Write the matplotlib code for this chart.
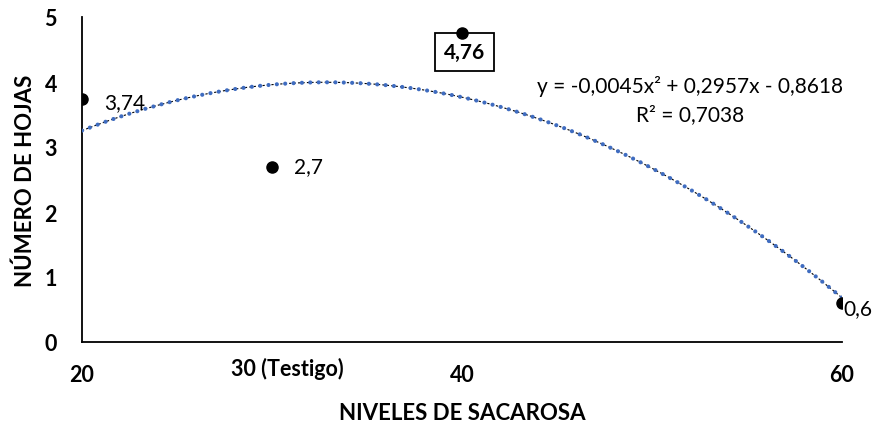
import numpy as np
import matplotlib
matplotlib.use("Agg")
import matplotlib.pyplot as plt
import matplotlib.transforms as mtransforms

# data
niveles = [20, 30, 40, 60]
hojas = [3.74, 2.7, 4.76, 0.6]
etiquetas = ["3,74", "2,7", "4,76", "0,6"]
tick_pos = [20, 30, 40, 60]
tick_lab = ["20", "30 (Testigo)", "40", "60"]
coef = [-0.0045, 0.2957, -0.8618]  # polynomial trend (Excel)
ecuacion = "y = -0,0045x² + 0,2957x - 0,8618"
r2 = "R² = 0,7038"

plt.rcParams["font.family"] = ["Lato", "DejaVu Sans"]

fig = plt.figure(figsize=(8.76, 4.27), dpi=100)
ax = fig.add_axes([82 / 876, 84 / 427, 760 / 876, 325 / 427])

# trend line: thin black dashes under blue round dots
xs = np.linspace(20, 60, 300)
ys = np.polyval(coef, xs)
ax.plot(xs, ys, color="black", lw=0.8, ls=(0, (2, 2)), zorder=2)
ax.plot(xs, ys, color="#3F6CC0", lw=3.0, ls=(0, (0.01, 2.0)),
        dash_capstyle="round", zorder=3)

ax.plot(niveles, hojas, "o", color="black", ms=8, zorder=4)

# data labels
ax.annotate(etiquetas[0], (niveles[0], hojas[0]), xytext=(16, -2),
            textcoords="offset points", ha="left", va="center", fontsize=15)
ax.annotate(etiquetas[1], (niveles[1], hojas[1]), xytext=(16, 0),
            textcoords="offset points", ha="left", va="center", fontsize=15)
ax.annotate(etiquetas[2], (niveles[2], hojas[2]), xytext=(2, -14),
            textcoords="offset points", ha="center", va="center", fontsize=15,
            fontweight="bold",
            bbox=dict(boxstyle="square,pad=0.42", fc="white", ec="black", lw=1.3))
ax.annotate(etiquetas[3], (niveles[3], hojas[3]), xytext=(1, -4),
            textcoords="offset points", ha="left", va="center", fontsize=15)

ax.text(0.800, 0.788, ecuacion, transform=ax.transAxes, ha="center",
        va="center", fontsize=15)
ax.text(0.800, 0.702, r2, transform=ax.transAxes, ha="center",
        va="center", fontsize=15)

ax.set_xlim(20, 60)
ax.set_ylim(0, 5)
ax.set_xticks(tick_pos)
ax.set_xticklabels(tick_lab, fontsize=15.5, fontweight="bold")
ax.set_yticks(range(0, 6))
ax.set_yticklabels([str(v) for v in range(0, 6)], fontsize=15.5, fontweight="bold")
ax.tick_params(axis="both", length=0)
ax.tick_params(axis="x", pad=16)
ax.tick_params(axis="y", pad=18)

# the "30 (Testigo)" label sits a bit higher and to the right
lab30 = ax.get_xticklabels()[1]
lab30.set_transform(lab30.get_transform() +
                    mtransforms.ScaledTranslation(15 / 100, 7 / 100, fig.dpi_scale_trans))

for s in ["top", "right"]:
    ax.spines[s].set_visible(False)
for s in ["left", "bottom"]:
    ax.spines[s].set_linewidth(1.3)
    ax.spines[s].set_color("black")

ax.set_xlabel("NIVELES DE SACAROSA", fontsize=16, fontweight="bold", labelpad=12)
ax.set_ylabel("NÚMERO DE HOJAS", fontsize=16, fontweight="bold", labelpad=6)

fig.savefig("out.png", dpi=100)
